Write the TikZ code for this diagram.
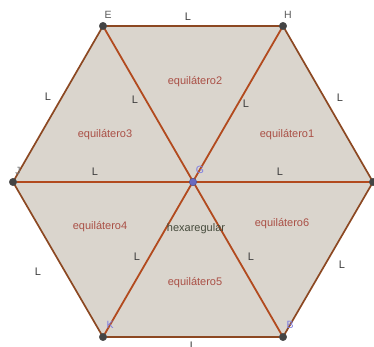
\documentclass[tikz,border=0pt]{standalone}
\usepackage{fontspec}
\setmainfont{Liberation Sans}
\begin{document}
\begin{tikzpicture}[x=1pt,y=-1pt,
  outer/.style={draw=edgeout,line width=1.7pt},
  inner/.style={draw=edgein,line width=1.8pt},
  lbl/.style={font=\fontsize{11}{12}\selectfont,text=lcol,inner sep=0pt},
  tri/.style={font=\fontsize{11}{12}\selectfont,text=tcol,inner sep=0pt},
  vlab/.style={font=\fontsize{10.5}{11}\selectfont,inner sep=0pt},
  pt/.style={circle,fill=ptcol,draw=black!70,line width=0.4pt,inner sep=0pt,minimum size=7.5pt}]
\definecolor{edgeout}{RGB}{140,72,34}
\definecolor{edgein}{RGB}{178,74,30}
\definecolor{fillc}{RGB}{218,213,205}
\definecolor{lcol}{RGB}{60,60,60}
\definecolor{tcol}{RGB}{170,80,70}
\definecolor{ptcol}{RGB}{68,68,68}
\definecolor{blu}{RGB}{125,125,225}
\definecolor{hexc}{RGB}{70,75,60}
\useasboundingbox (0,0) rectangle (374,347);
\coordinate (E) at (103,26);
\coordinate (H) at (283,26);
\coordinate (R) at (373,182);
\coordinate (B) at (283,337);
\coordinate (K) at (103,337);
\coordinate (J) at (13,182);
\coordinate (G) at (193,182);
\fill[fillc] (E) -- (H) -- (R) -- (B) -- (K) -- (J) -- cycle;
\draw[outer] (E) -- (H) -- (R) -- (B) -- (K) -- (J) -- cycle;
\draw[inner] (E) -- (B);
\draw[inner] (H) -- (K);
\draw[inner] (J) -- (R);
% side labels
\node[lbl] (l1) at (188,17) {L};
\node[lbl] (l2) at (48,97) {L};
\node[lbl] (l3) at (135,100) {L};
\node[lbl] (l4) at (246,104) {L};
\node[lbl] (l5) at (340,98) {L};
\node[lbl] (l6) at (95,172) {L};
\node[lbl] (l7) at (280,172) {L};
\node[lbl] (l8) at (38,272) {L};
\node[lbl] (l9) at (137,257) {L};
\node[lbl] (l10) at (251,257) {L};
\node[lbl] (l11) at (342,265) {L};
\node[lbl] (l12) at (193,346) {L};
% triangle labels
\node[tri] (t2) at (195,82) {equilátero2};
\node[tri] (t3) at (105,135) {equilátero3};
\node[tri] (t1) at (287,135) {equilátero1};
\node[tri] (t4) at (100,227) {equilátero4};
\node[tri] (t6) at (282,224) {equilátero6};
\node[tri] (t5) at (195,283) {equilátero5};
\node[font=\fontsize{11}{12}\selectfont,text=hexc,inner sep=0pt] (hx) at (196,229) {hexaregular};
% points
\node[pt] (pE) at (E) {};
\node[pt] (pH) at (H) {};
\node[pt] (pR) at (R) {};
\node[pt] (pB) at (B) {};
\node[pt] (pK) at (K) {};
\node[pt] (pJ) at (J) {};
\node[pt,fill=blu!85!black,draw=blu!60!black] (pG) at (G) {};
% vertex labels
\node[vlab,text=black!65] (nE) at (108,15) {E};
\node[vlab,text=black!65] (nH) at (288,15) {H};
\node[vlab,text=black!55] (nJ) at (18,171) {J};
\node[vlab,text=blu] (nG) at (200,170) {G};
\node[vlab,text=blu] (nK) at (110,325) {K};
\node[vlab,text=blu] (nB) at (290,325) {B};
\end{tikzpicture}
\end{document}
